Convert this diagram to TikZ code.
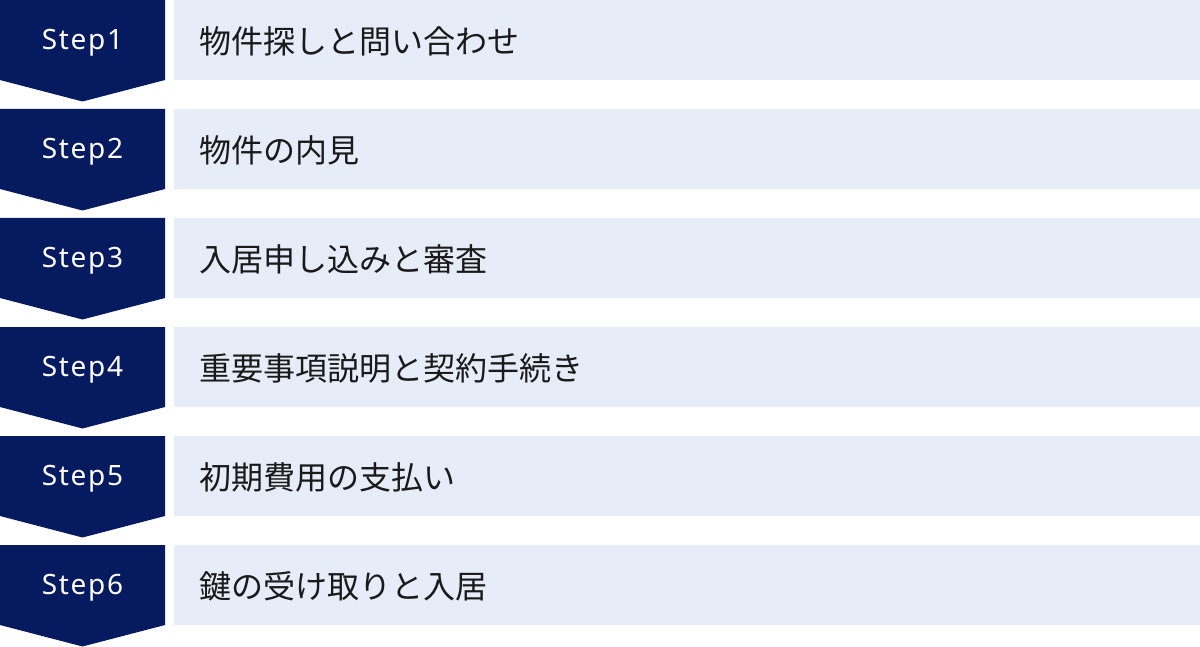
\documentclass[tikz,border=0pt]{standalone}
\usepackage{fontspec}
\setmainfont{Noto Sans CJK JP}
\newfontfamily\stepfont[LetterSpace=6]{Noto Sans}
\definecolor{navy}{HTML}{061A60}
\definecolor{paleblue}{HTML}{E6ECF8}
\definecolor{ink}{HTML}{1A1A1A}
\begin{document}
\begin{tikzpicture}[x=1pt,y=-1pt,
  steplabel/.style={text=white,font=\stepfont\fontsize{28}{30}\selectfont,anchor=center,inner sep=0pt},
  itemlabel/.style={text=ink,font=\fontsize{32}{34}\selectfont,anchor=west,inner sep=0pt}]
\useasboundingbox (0,0) rectangle (1200,647);
\foreach \i/\t in {1/物件探しと問い合わせ,2/物件の内見,3/入居申し込みと審査,4/重要事項説明と契約手続き,5/初期費用の支払い,6/鍵の受け取りと入居}{
  \pgfmathsetmacro{\y}{(\i-1)*109}
  \fill[navy] (0,\y) -- (165,\y) -- (165,\y+80) -- (82.5,\y+101.5) -- (0,\y+80) -- cycle;
  \fill[paleblue] (174,\y) rectangle (1200,\y+80);
  \node[steplabel] (s\i) at (82.5,\y+42.5) {Step\i};
  \node[itemlabel] (t\i) at (199,\y+41.5) {\t};
}
\end{tikzpicture}
\end{document}
